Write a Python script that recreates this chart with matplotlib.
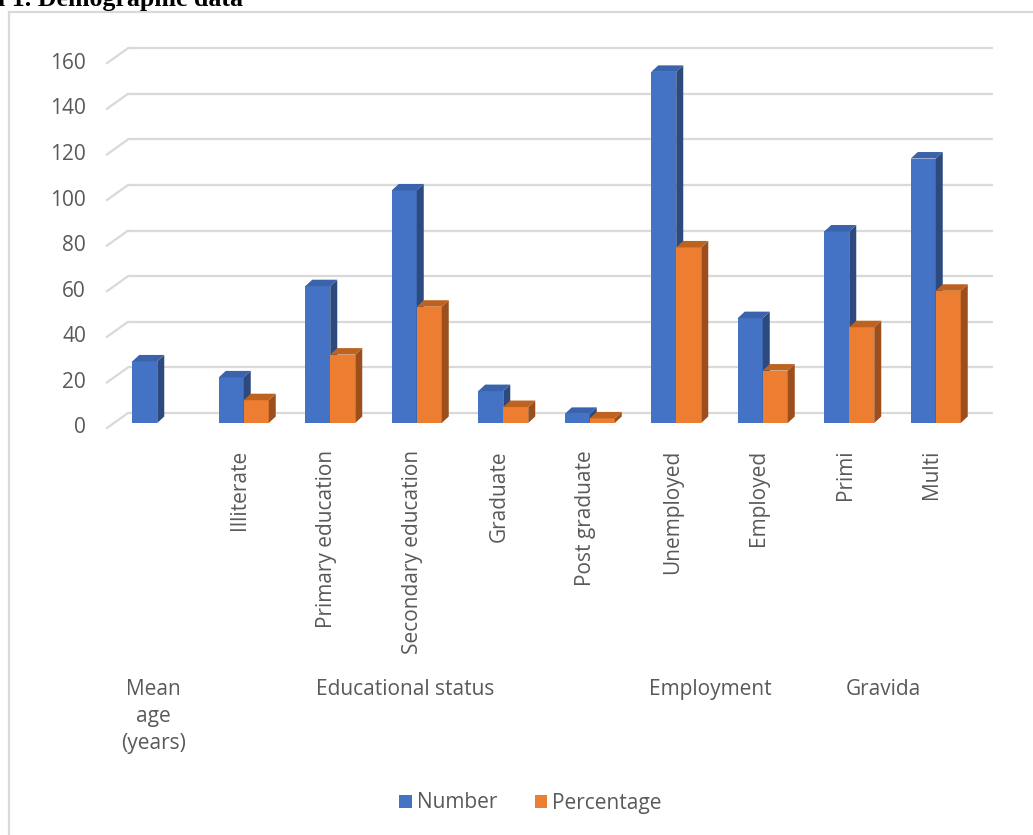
import matplotlib
matplotlib.use("Agg")
import matplotlib.pyplot as plt
from matplotlib.patches import Polygon, Patch
from matplotlib.lines import Line2D

# ---- data ----
categories = ["", "Illiterate", "Primary education", "Secondary education", "Graduate",
              "Post graduate", "Unemployed", "Employed", "Primi", "Multi"]
number = [27, 20, 60, 102, 14, 4, 154, 46, 84, 116]
percentage = [None, 10, 30, 51, 7, 2, 77, 23, 42, 58]
group_labels = ["Mean\nage\n(years)", "Educational status", "Employment", "Gravida"]
yticks = [0, 20, 40, 60, 80, 100, 120, 140, 160]
series_names = ["Number", "Percentage"]

# ---- styling ----
W, H = 1033, 835
FONT = "Open Sans"
TXT = "#595959"
GRID = "#D9D9D9"
blue = ("#4472C4", "#2C4A7E", "#3A63AC")
orange = ("#ED7D31", "#9C4F1C", "#BE6220")
FS = 15

fig = plt.figure(figsize=(W / 100, H / 100), dpi=100)
fig.patch.set_facecolor("white")

# axes: x -0.5..9.5 -> 114..979 px, y 0..160 -> 423..58.2 px
px_x0, px_x1 = 114, 979
px_y0, px_y1 = 423, 58.2
ax = fig.add_axes([px_x0 / W, 1 - px_y0 / H, (px_x1 - px_x0) / W, (px_y0 - px_y1) / H])
ax.set_xlim(-0.5, 9.5)
ax.set_ylim(0, 160)
ax.axis("off")

ppx = (px_x1 - px_x0) / 10.0          # px per category
ppy = (px_y0 - px_y1) / 160.0         # px per unit

WX, WY = 14 / ppx, 10 / ppy           # back wall offset
FX, FY = 7 / ppx, 5 / ppy             # front plane offset
DX, DY = 7 / ppx, 6.5 / ppy           # bar depth
BW = 25 / ppx                         # bar width

# back-wall gridlines and left diagonals
for v in yticks:
    ax.plot([-0.5 + WX, 9.5 + WX], [v + WY, v + WY], color=GRID, lw=1.6,
            clip_on=False, zorder=1, solid_capstyle="butt")
    ax.plot([-0.5 - FX, -0.5 + WX], [v - FY, v + WY], color=GRID, lw=1.6,
            clip_on=False, zorder=1)
    ax.text(-0.5 - 28 / ppx, v - FY, str(v), ha="right", va="center",
            fontsize=FS, color=TXT, family=FONT)


def bar3d(x0, h, cols, z):
    front, side, top = cols
    ax.add_patch(Polygon([(x0, 0), (x0 + BW, 0), (x0 + BW, h), (x0, h)],
                         closed=True, fc=front, ec="none", zorder=z, clip_on=False))
    ax.add_patch(Polygon([(x0 + BW, 0), (x0 + BW + DX, DY), (x0 + BW + DX, h + DY), (x0 + BW, h)],
                         closed=True, fc=side, ec="none", zorder=z, clip_on=False))
    ax.add_patch(Polygon([(x0, h), (x0 + BW, h), (x0 + BW + DX, h + DY), (x0 + DX, h + DY)],
                         closed=True, fc=top, ec="none", zorder=z, clip_on=False))


for i, (n, p) in enumerate(zip(number, percentage)):
    bar3d(i - BW, n, blue, 3 + 2 * i)
    if p is not None:
        bar3d(i, p, orange, 4 + 2 * i)
    if categories[i]:
        ax.text(i - 4 / ppx, -27 / ppy, categories[i], rotation=90, ha="center", va="top",
                fontsize=FS, color=TXT, family=FONT)

# group labels (px centers converted to category units)
group_x = [(153 - 157) / ppx, (404.5 - 157) / ppx, (710.5 - 157) / ppx, (883.5 - 157) / ppx]
for gx, lab in zip(group_x, group_labels):
    ax.text(gx, -(679 - px_y0) / ppy, lab, ha="center", va="top", fontsize=FS,
            color=TXT, family=FONT, linespacing=1.39, multialignment="center")

# legend
handles = [Patch(facecolor=blue[0], edgecolor="none"), Patch(facecolor=orange[0], edgecolor="none")]
leg = fig.legend(handles, series_names, loc="center", bbox_to_anchor=(530.5 / W, 1 - 803 / H),
                 ncol=2, frameon=False, handlelength=0.6, handleheight=0.6,
                 handletextpad=0.25, columnspacing=1.8, prop={"family": FONT, "size": FS})
for t in leg.get_texts():
    t.set_color(TXT)

# chart frame (top and left edges visible)
fig.add_artist(Line2D([9 / W, 1.0], [1 - 12 / H, 1 - 12 / H], transform=fig.transFigure,
                      color=GRID, lw=1.6))
fig.add_artist(Line2D([9 / W, 9 / W], [1 - 12 / H, 0.0], transform=fig.transFigure,
                      color=GRID, lw=1.6))

# caption at the very top (cropped in the reference)
fig.text(-2 / W, 1 - 6 / H, "l 1. Demographic data", ha="left", va="baseline",
         fontsize=18.6, fontweight="bold", family="Liberation Serif", color="black")

fig.savefig("out.png", dpi=100, facecolor="white")
